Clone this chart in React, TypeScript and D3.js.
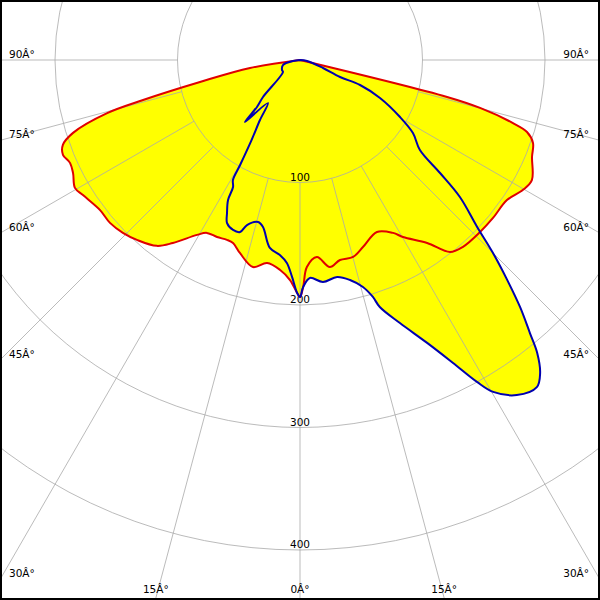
import React from "react";
import * as d3 from "d3";

// Angle ticks (degrees from nadir) and intensity rings (cd)
const ANGLE_TICKS = [0, 15, 30, 45, 60, 75, 90];
const RING_VALUES = [100, 200, 300, 400];

// Red curve: C0-C180 plane (negative angles = left side)
const redAngles = [
  -90, -80.9, -77.6, -75.7, -74.6, -72.2, -70.3, -68.2, -65.9, -63.5, -60.4, -58.1, -53.1, -49.4,
  -45.7, -42.2, -37.6, -34.8, -30.5, -28.3, -25.1, -22.1, -20.1, -17.3, -12.8, -9.2, -5.4, -2.6,
  -0.7, 0, 0.8, 1.9, 4.9, 8.2, 11.3, 15.1, 18.6, 24.1, 28.3, 30.2, 34.8, 38, 41.1, 46.3, 50.7,
  55.9, 59.8, 62.6, 67.3, 70.4, 72.4, 73.5, 75.1, 75.9, 90,
];
const redValues = [
  0, 41.3, 83.6, 132.2, 163.3, 194.6, 205.6, 208.4, 205.7, 207, 211.3, 208.7, 204.1, 204.3,
  202, 198.2, 191.5, 181.9, 165.7, 160.3, 159.6, 158.5, 159.1, 165, 173.3, 167.9, 172.2, 179.8,
  190.2, 193.5, 185.3, 169.1, 161.4, 170.8, 166.5, 166.5, 161.1, 153.8, 160.3, 167.2, 181.9, 198.9, 202.4, 203.3, 203.6,
  204, 210.7, 213.2, 205.3, 201.9, 194.4, 181.3, 152.1, 123.8, 0,
];

// Blue curve: C90-C270 plane
const blueAngles = [
  -90, -81.9, -73.6, -60.9, -54.8, -45, -42.5, -41.6, -36.7, -33.7, -31.2, -29.7, -29.2, -27.8,
  -27.2, -25.5, -24.1, -21.5, -19.2, -17.8, -14.5, -12.5, -9.1, -5.9, -3.7, -2.1, -0.7, 0, 0.8,
  2.6, 5.9, 9.7, 12.8, 15.5, 17.1, 17.9, 20.8, 24.2, 26.8, 28.8, 30.2, 32.9, 35.9, 37.5, 39,
  40.1, 41.7, 43.3, 45, 46.7, 49.4, 51.1, 53.1, 57.1, 60.3, 64.6, 67.4, 67, 70.8, 81.9, 90,
];
const blueValues = [
  0, 5.8, 14.5, 16.8, 17, 42.7, 52, 67.7, 43.8, 58.9, 76.2, 98.7, 112.2, 117.2,
  128.5, 138.4, 145.8, 149.1, 148.7, 141.5, 136.6, 139.6, 155.4, 160, 166, 177.2, 190.2, 193.5, 185.3,
  178.1, 182.2, 179.7, 184.2, 192.3, 202.4, 211.9, 229.7, 253.2, 277.1, 299.9, 313.5, 325.8, 329.7, 322, 307.7,
  291.4, 270, 246.6, 222.8, 198.7, 171.9, 146.9, 122.4, 109.8, 94, 72.3, 53.1, 35.5, 19.9, 5.8, 0,
];

const W = 600;
const H = 600;
const CX = 300;
const CY = 60;

type P = { a: number; v: number };

export default function App() {
  const r = d3.scaleLinear().domain([0, 100]).range([0, 122.5]);
  const rad = (deg: number) => (deg * Math.PI) / 180;

  const red: P[] = redAngles.map((a, i) => ({ a, v: redValues[i] }));
  const blue: P[] = blueAngles.map((a, i) => ({ a, v: blueValues[i] }));

  const line = d3
    .lineRadial<P>()
    .angle((d) => Math.PI - rad(d.a))
    .radius((d) => r(d.v))
    .curve(d3.curveCatmullRom.alpha(0.5));

  const inner = r(100);
  const far = 900;

  const font = "'DejaVu Sans', sans-serif";

  // label positions
  const labels: { x: number; y: number; text: string; anchor: string }[] = [];
  ANGLE_TICKS.forEach((a) => {
    const t = `${a}Â°`;
    if (a <= 15) {
      const dx = (598 - CY) * Math.tan(rad(a));
      labels.push({ x: CX - dx, y: 593, text: t, anchor: "middle" });
      if (a > 0) labels.push({ x: CX + dx, y: 593, text: t, anchor: "middle" });
    } else {
      const yExit = a === 90 ? CY : CY + CX / Math.tan(rad(a));
      labels.push({ x: 9, y: yExit - 2.5, text: t, anchor: "start" });
      labels.push({ x: 589, y: yExit - 2.5, text: t, anchor: "end" });
    }
  });

  const gridStroke = "#aaaaaa";

  return (
    <svg
      width={W}
      height={H}
      style={{ position: "absolute", left: 0, top: 0, background: "#fff" }}
    >
      <defs>
        <clipPath id="frame">
          <rect x={0} y={0} width={W} height={H} />
        </clipPath>
      </defs>
      <g clipPath="url(#frame)">
        <rect x={0} y={0} width={W} height={H} fill="#fff" />
        <g transform={`translate(${CX},${CY})`}>
          <path d={line(red) || ""} fill="#ffff00" stroke="none" />
          <path d={line(blue) || ""} fill="#ffff00" stroke="none" />
          <g stroke={gridStroke} strokeOpacity={0.8} fill="none" strokeWidth={1}>
            {RING_VALUES.map((v) => (
              <circle key={v} cx={0} cy={0} r={r(v)} />
            ))}
            {ANGLE_TICKS.flatMap((a) =>
              (a === 0 ? [0] : [-a, a]).map((s) => (
                <line
                  key={s}
                  x1={inner * Math.sin(rad(s))}
                  y1={inner * Math.cos(rad(s))}
                  x2={far * Math.sin(rad(s))}
                  y2={far * Math.cos(rad(s))}
                />
              ))
            )}
          </g>
          {RING_VALUES.map((v) => (
            <text
              key={v}
              x={0}
              y={r(v) - 2}
              textAnchor="middle"
              fontFamily={font}
              fontSize={10.5}
              fill="#000"
            >
              {v}
            </text>
          ))}
          <path d={line(red) || ""} fill="none" stroke="#e00000" strokeWidth={2} strokeLinejoin="round" />
          <path d={line(blue) || ""} fill="none" stroke="#0000b0" strokeWidth={2} strokeLinejoin="round" />
        </g>
        {labels.map((l, i) => (
          <text
            key={i}
            x={l.x}
            y={l.y}
            textAnchor={l.anchor as any}
            fontFamily={font}
            fontSize={10.5}
            fill="#000"
          >
            {l.text}
          </text>
        ))}
        <rect x={1} y={1} width={W - 2} height={H - 2} fill="none" stroke="#000" strokeWidth={2} />
      </g>
    </svg>
  );
}
